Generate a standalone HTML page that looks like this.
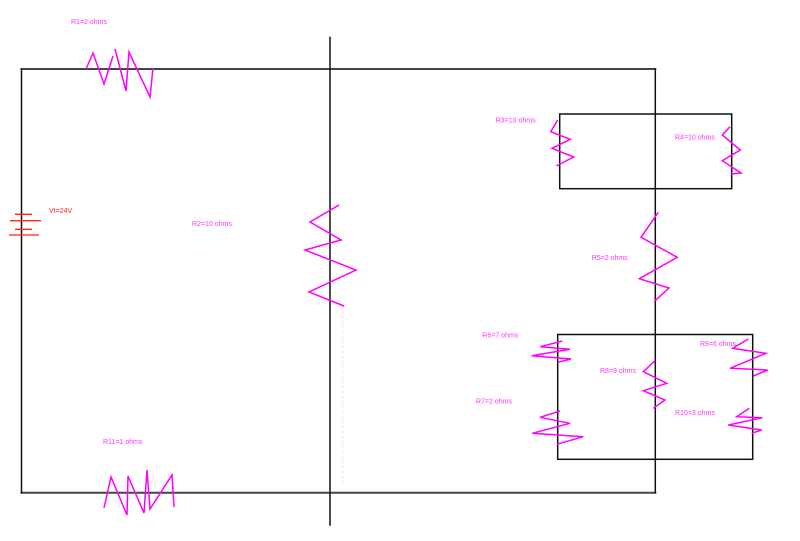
<!DOCTYPE html>
<html><head><meta charset="utf-8"><style>
html,body{margin:0;padding:0;background:#fff;}
svg{display:block;}
text{font-family:"Liberation Sans",sans-serif;font-size:7px;fill:#ff33ff;dominant-baseline:middle;}
</style></head><body>
<svg width="800" height="541" viewBox="0 0 800 541" xmlns="http://www.w3.org/2000/svg">
<g fill="none" stroke-linecap="square">
<!-- main circuit -->
<line x1="21.5" y1="69" x2="655.3" y2="69" stroke="#444" stroke-width="2"/>
<line x1="21.5" y1="492.7" x2="655.3" y2="492.7" stroke="#444" stroke-width="2"/>
<line x1="21.5" y1="69" x2="21.5" y2="492.7" stroke="#111" stroke-width="1.5"/>
<line x1="655.3" y1="69" x2="655.3" y2="492.7" stroke="#111" stroke-width="1.5"/>
<line x1="330" y1="37.5" x2="330" y2="525" stroke="#111" stroke-width="1.5"/>
<rect x="559.7" y="114" width="172" height="74.7" stroke="#111" stroke-width="1.5"/>
<rect x="557.7" y="334.5" width="195" height="124.8" stroke="#111" stroke-width="1.5"/>
<line x1="342.7" y1="306" x2="342.7" y2="485" stroke="#f4d8f4" stroke-width="1" stroke-dasharray="2 3"/>
</g>
<!-- battery -->
<g stroke="#ff2020" stroke-width="1.3">
<line x1="15" y1="214.3" x2="32" y2="214.3"/>
<line x1="10" y1="220.7" x2="41" y2="220.7"/>
<line x1="15" y1="229.3" x2="32" y2="229.3"/>
<line x1="9" y1="235" x2="39" y2="235"/>
</g>
<g fill="none" stroke="#ff00ff" stroke-width="1.5" stroke-linejoin="miter">
<!-- R1 -->
<polyline points="86,69 93,53 104,84 113,56"/>
<polyline points="115,49 126,91 129,52 150,97 153,68"/>
<!-- R2 -->
<polyline points="339,205 310,222 341,240 305,250 356,270 309,292 344,306"/>
<!-- R11 -->
<polyline points="104,508 111,477 127,515 128,476 144,513 147,470 150,509 172,475 174,507"/>
<!-- R3 -->
<polyline points="557.7,120 550.7,131.7 570.3,139.3 552,148.3 573.7,157 556.3,166"/>
<!-- R4 -->
<polyline points="730,126.7 722.3,135 740.3,150 722.3,160.7 741,173 730.7,174"/>
<!-- R5 -->
<polyline points="658.3,212.3 641,237.3 677.3,257.3 639.3,278.7 669,288 654.3,301.3"/>
<!-- R6 -->
<polyline points="562.3,341 540.3,346.7 570,349.3 531.7,355.7 571,359 557.7,362.3"/>
<!-- R7 -->
<polyline points="560,411 540,417.3 570,423.3 532.3,433.3 583.3,436.7 556.7,444.3"/>
<!-- R8 -->
<polyline points="655,360.7 643.3,371.7 666.7,383.3 643.3,390.7 665,400 653.3,408.3"/>
<!-- R9 -->
<polyline points="748.3,339 732.7,348.3 766,353.3 730,368.3 767.7,370 753.3,376"/>
<!-- R10 -->
<polyline points="749.3,408.3 736.7,416.7 762.3,417.7 728.3,425 761.7,430 751.7,433.3"/>
</g>
<text x="71" y="22">R1=2 ohms</text>
<text x="49" y="211" style="fill:#ff2020">Vt=24V</text>
<text x="192" y="224">R2=10 ohms</text>
<text x="103" y="442">R11=1 ohms</text>
<text x="495.7" y="120.7">R3=10 ohms</text>
<text x="675" y="137.7">R4=10 ohms</text>
<text x="591.7" y="258.3">R5=2 ohms</text>
<text x="482.3" y="335.7">R6=7 ohms</text>
<text x="476" y="401.7">R7=2 ohms</text>
<text x="600" y="371">R8=9 ohms</text>
<text x="700" y="344.3">R9=6 ohms</text>
<text x="675" y="413.3">R10=3 ohms</text>
</svg>
</body></html>
